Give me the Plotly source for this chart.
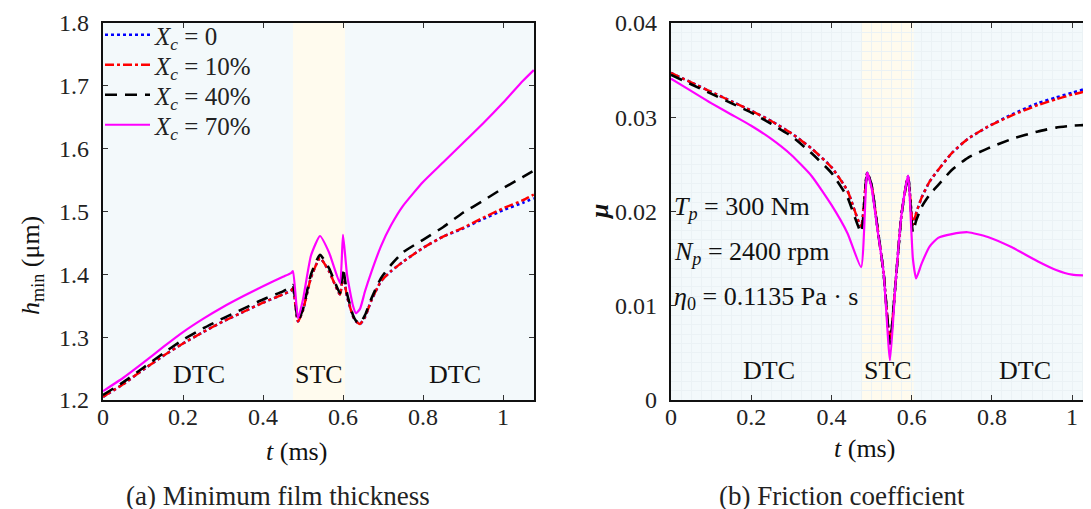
import plotly.graph_objects as go

W, H = 1091, 509

# ---------------- data: (a) minimum film thickness ----------------
t_a = [0, 0.05, 0.1, 0.15, 0.2, 0.25, 0.3, 0.35, 0.4, 0.45, 0.47, 0.475, 0.4875, 0.5, 0.52,
       0.5425, 0.565, 0.5925, 0.6, 0.61, 0.625, 0.6325, 0.6425, 0.655, 0.67, 0.695, 0.72,
       0.75, 0.8, 0.85, 0.9, 0.95, 1.0, 1.05, 1.077]
h_xc0 = [1.205, 1.225, 1.248, 1.270, 1.290, 1.308, 1.325, 1.340, 1.355, 1.368, 1.374, 1.378, 1.325,
         1.343, 1.395, 1.426, 1.405, 1.368, 1.400, 1.365, 1.333, 1.325, 1.321, 1.332, 1.357, 1.389,
         1.405, 1.420, 1.442, 1.460, 1.473, 1.488, 1.502, 1.514, 1.521]
h_xc10 = [1.205, 1.225, 1.248, 1.270, 1.290, 1.308, 1.325, 1.340, 1.355, 1.368, 1.374, 1.378, 1.325,
          1.343, 1.395, 1.426, 1.405, 1.368, 1.400, 1.365, 1.333, 1.325, 1.321, 1.332, 1.357, 1.389,
          1.405, 1.420, 1.442, 1.460, 1.474, 1.490, 1.505, 1.518, 1.527]
h_xc40 = [1.208, 1.228, 1.251, 1.274, 1.296, 1.314, 1.330, 1.345, 1.360, 1.373, 1.380, 1.383, 1.326,
          1.345, 1.400, 1.431, 1.410, 1.370, 1.410, 1.370, 1.335, 1.326, 1.322, 1.335, 1.360, 1.394,
          1.415, 1.435, 1.455, 1.475, 1.498, 1.517, 1.537, 1.555, 1.565]
h_xc70 = [1.214, 1.235, 1.259, 1.284, 1.308, 1.329, 1.348, 1.365, 1.381, 1.396, 1.402, 1.405, 1.330,
          1.360, 1.430, 1.461, 1.435, 1.386, 1.463, 1.400, 1.350, 1.338, 1.345, 1.373, 1.402, 1.445,
          1.478, 1.509, 1.547, 1.578, 1.609, 1.640, 1.673, 1.708, 1.725]

# ---------------- data: (b) friction coefficient ----------------
t_b = [0, 0.05, 0.1, 0.15, 0.2, 0.25, 0.3, 0.35, 0.4, 0.44, 0.474, 0.489, 0.5, 0.515, 0.53, 0.546,
       0.56, 0.575, 0.591, 0.603, 0.611, 0.625, 0.645, 0.666, 0.7, 0.74, 0.79, 0.85, 0.915, 0.96,
       1.0, 1.04, 1.067]
mu_xc0 = [0.0347, 0.0337, 0.0327, 0.0317, 0.0307, 0.0296, 0.0283, 0.0267, 0.0247, 0.0222, 0.0184,
          0.0241, 0.0228, 0.0182, 0.0135, 0.0060, 0.0125, 0.0198, 0.0237, 0.0186, 0.0198, 0.0215,
          0.0232, 0.0244, 0.0262, 0.0277, 0.0290, 0.0303, 0.0315, 0.0321, 0.0326, 0.0331, 0.0334]
mu_xc10 = [0.0347, 0.0337, 0.0327, 0.0317, 0.0307, 0.0296, 0.0283, 0.0267, 0.0247, 0.0222, 0.0184,
           0.0241, 0.0228, 0.0182, 0.0135, 0.0060, 0.0125, 0.0198, 0.0237, 0.0186, 0.0198, 0.0215,
           0.0232, 0.0244, 0.0262, 0.0277, 0.0290, 0.0302, 0.0313, 0.0319, 0.0324, 0.0328, 0.0331]
mu_xc40 = [0.0345, 0.0335, 0.0325, 0.0315, 0.0305, 0.0293, 0.0280, 0.0262, 0.0241, 0.0215, 0.0178,
           0.0241, 0.0228, 0.0182, 0.0135, 0.0060, 0.0125, 0.0198, 0.0237, 0.0178, 0.0190, 0.0205,
           0.0218, 0.0228, 0.0244, 0.0257, 0.0267, 0.0277, 0.0285, 0.0289, 0.0291, 0.0292, 0.0293]
mu_xc70 = [0.0341, 0.0328, 0.0315, 0.0303, 0.0291, 0.0277, 0.0260, 0.0238, 0.0207, 0.0177, 0.0141,
           0.0241, 0.0225, 0.0180, 0.0135, 0.0042, 0.0125, 0.0198, 0.0238, 0.0150, 0.0129, 0.0145,
           0.0163, 0.0172, 0.0176, 0.0178, 0.0173, 0.0162, 0.0147, 0.0138, 0.0133, 0.0132, 0.0132]

series_names = ["<i>X</i><sub><i>c</i></sub> = 0", "<i>X</i><sub><i>c</i></sub> = 10%",
                "<i>X</i><sub><i>c</i></sub> = 40%", "<i>X</i><sub><i>c</i></sub> = 70%"]
stc_range = [0.475, 0.605]
xrange_a = [0, 1.0775]
xrange_b = [0, 1.067]
yrange_a = [1.2, 1.8]
yrange_b = [0, 0.04]
xticks = [0, 0.2, 0.4, 0.6, 0.8, 1]
xticklabels = ["0", "0.2", "0.4", "0.6", "0.8", "1"]
yticks_a = [1.2, 1.3, 1.4, 1.5, 1.6, 1.7, 1.8]
yticks_b = [0, 0.01, 0.02, 0.03, 0.04]
yticklabels_b = ["0", "0.01", "0.02", "0.03", "0.04"]

styles = [
    dict(color="#0000ff", width=2.6, dash="dot"),
    dict(color="#ff0000", width=2.4, dash="dashdot"),
    dict(color="#000000", width=2.6, dash="12px,8px"),
    dict(color="#ff00ff", width=2.2, dash="solid"),
]

SERIF = "Liberation Serif"
legend_ids = ["legend", "legend2", "legend3", "legend4"]
legend_rows = [27, 57, 87, 117]


def px(x):
    return x / W


def py(y):
    return 1 - y / H


fig = go.Figure()
for name, ys, st, lid in zip(series_names, [h_xc0, h_xc10, h_xc40, h_xc70], styles, legend_ids):
    fig.add_trace(go.Scatter(x=t_a, y=ys, mode="lines", name=name,
                             line=dict(**st, shape="spline", smoothing=0.5),
                             xaxis="x", yaxis="y", showlegend=True, legend=lid))
for name, ys, st in zip(series_names, [mu_xc0, mu_xc10, mu_xc40, mu_xc70], styles):
    fig.add_trace(go.Scatter(x=t_b, y=ys, mode="lines", name=name,
                             line=dict(**st, shape="spline", smoothing=0.5),
                             xaxis="x2", yaxis="y2", showlegend=False))

ydom = [py(392), py(15)]
tickfont = dict(family=SERIF, size=24, color="#222222")
common_x = dict(tickmode="array", tickvals=xticks, ticktext=xticklabels, ticks="inside", ticklen=5,
                tickwidth=1, tickcolor="#333", showline=True, linecolor="#111", linewidth=2.2,
                tickfont=tickfont, zeroline=False, automargin=False, ticklabelstandoff=-6)
GRID = "#ebf2f5"

legend_layout = {}
for lid, row in zip(legend_ids, legend_rows):
    legend_layout[lid] = dict(x=px(92), y=py(row), xanchor="left", yanchor="middle",
                              bgcolor="rgba(0,0,0,0)", font=dict(family=SERIF, size=25, color="#222"),
                              itemwidth=45)

fig.update_layout(
    template="none",
    width=W, height=H,
    margin=dict(l=0, r=0, t=0, b=0),
    paper_bgcolor="white",
    plot_bgcolor="#f3f9fb",
    font=dict(family=SERIF),
    xaxis=dict(domain=[px(95), px(526)], range=xrange_a, mirror="ticks", showgrid=False, anchor="y",
               **common_x),
    yaxis=dict(domain=ydom, range=yrange_a, tickmode="array", tickvals=yticks_a,
               ticktext=[f"{v:.1f}" for v in yticks_a], ticks="inside", ticklen=5, tickwidth=1,
               tickcolor="#333", showline=True, linecolor="#111", linewidth=2.2, mirror="ticks",
               tickfont=tickfont, zeroline=False, showgrid=False, automargin=False, anchor="x",
               ticklabelstandoff=7),
    xaxis2=dict(domain=[px(663), 1.0], range=xrange_b, mirror="ticks", anchor="y2",
                showgrid=True, gridcolor=GRID, gridwidth=1,
                minor=dict(dtick=0.025, showgrid=True, gridcolor=GRID, gridwidth=1, ticks=""),
                **common_x),
    yaxis2=dict(domain=ydom, range=yrange_b, tickmode="array", tickvals=yticks_b, ticktext=yticklabels_b,
                ticks="inside", ticklen=5, tickwidth=1, tickcolor="#333", showline=True, linecolor="#111",
                linewidth=2.2, mirror=False, tickfont=tickfont, zeroline=False, showgrid=True,
                gridcolor=GRID, gridwidth=1,
                minor=dict(dtick=0.001, showgrid=True, gridcolor=GRID, gridwidth=1, ticks=""),
                automargin=False, anchor="x2", ticklabelstandoff=7),
    showlegend=True,
    **legend_layout,
)

# STC shaded bands
for xr, yr in [("x", "y domain"), ("x2", "y2 domain")]:
    fig.add_shape(type="rect", xref=xr, yref=yr, x0=stc_range[0], x1=stc_range[1], y0=0, y1=1,
                  fillcolor="#fffbee", line=dict(width=0), layer="below")

ann_font = dict(family=SERIF, size=26, color="#111")
# region labels
for xr, yr, xs, yv in [("x", "y", [0.24, 0.54, 0.88], 1.241), ("x2", "y2", [0.244, 0.541, 0.883], 0.0031)]:
    for xv, txt in zip(xs, ["DTC", "STC", "DTC"]):
        fig.add_annotation(x=xv, y=yv, xref=xr, yref=yr, text=txt, showarrow=False, font=ann_font,
                           xanchor="center", yanchor="middle")

# operating conditions
for yy, txt in [(200, "<i>T</i><sub><i>p</i></sub> = 300 Nm"),
                (245, "<i>N</i><sub><i>p</i></sub> = 2400 rpm"),
                (290, "<i>η</i><sub>0</sub> = 0.1135 Pa · s")]:
    fig.add_annotation(x=px(664), y=py(yy), xref="paper", yref="paper", text=txt, showarrow=False,
                       xanchor="left", yanchor="middle", font=ann_font)


def centered(x, y, text, size=26, angle=0, color="#111"):
    fig.add_annotation(x=px(x), y=py(y), xref="paper", yref="paper", text=text, showarrow=False,
                       xanchor="center", yanchor="middle", textangle=angle,
                       font=dict(family=SERIF, size=size, color=color))


# axis titles
centered(288, 443, "<i>t</i> (ms)")
centered(856, 440, "<i>t</i> (ms)")
centered(24, 258, "<i>h</i><sub>min</sub> (μm)", angle=-90)
centered(591, 204, "<b><i>μ</i></b>", angle=-90)

# captions
centered(270, 488, "(a) Minimum film thickness", size=27, color="#222")
centered(834, 488, "(b) Friction coefficient", size=27, color="#222")

fig.write_html("out.html")
